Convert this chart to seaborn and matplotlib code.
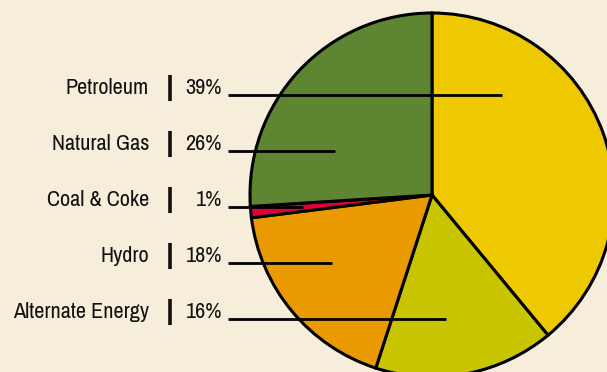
import matplotlib
matplotlib.use("Agg")
import matplotlib.pyplot as plt
import seaborn as sns

# Energy sources, in the order the wedges run clockwise from 12 o'clock
sources = ["Petroleum", "Alternate Energy", "Hydro", "Coal & Coke", "Natural Gas"]
shares = [39, 16, 18, 1, 26]
wedge_colors = ["#EEC800", "#C8C400", "#E89A00", "#E2003A", "#5E8632"]

# Label column, top to bottom
label_order = ["Petroleum", "Natural Gas", "Coal & Coke", "Hydro", "Alternate Energy"]

sns.set_theme(style="white")
plt.rcParams["font.family"] = ["Archivo Narrow", "DejaVu Sans"]

W, H = 607, 372
bg = "#F6EEDB"
fig = plt.figure(figsize=(W / 100, H / 100), dpi=100, facecolor=bg)
ax = fig.add_axes([0, 0, 1, 1])
ax.set_facecolor(bg)

palette = sns.color_palette(wedge_colors)
ax.pie(shares, colors=palette, startangle=90, counterclock=False,
       center=(432, H - 195), radius=182, frame=True,
       wedgeprops=dict(edgecolor="black", linewidth=2.2))
ax.set_xlim(0, W)
ax.set_ylim(0, H)
ax.set_axis_off()

# Where each leader line stops inside its wedge (pixels from the left)
leader_end = {"Petroleum": 502, "Natural Gas": 335, "Coal & Coke": 303,
              "Hydro": 332, "Alternate Energy": 446}
share_of = dict(zip(sources, shares))

for i, name in enumerate(label_order):
    y_text = H - (86 + 56 * i)
    y_line = H - (95 + 56 * i)
    ax.text(149, y_text, name, ha="right", va="center_baseline", fontsize=16,
            color="#111111")
    ax.plot([170, 170], [y_text - 15, y_text + 11], color="#111111", lw=2.6,
            solid_capstyle="butt")
    ax.text(222, y_text, f"{share_of[name]}%", ha="right", va="center_baseline",
            fontsize=16, color="#111111")
    ax.plot([228, leader_end[name]], [y_line, y_line], color="black", lw=2,
            solid_capstyle="butt", zorder=5)

fig.savefig("out.png", dpi=100, facecolor=bg)
